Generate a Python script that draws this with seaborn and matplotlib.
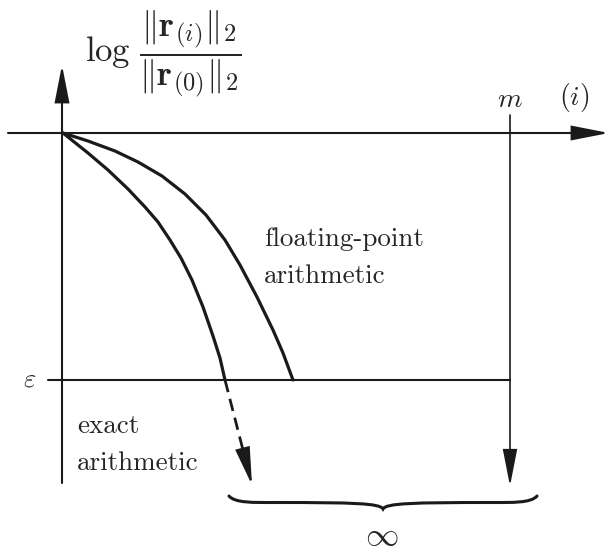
## Convergence sketch: exact vs floating-point arithmetic
import numpy as np
import pandas as pd
import matplotlib
matplotlib.use("Agg")
import matplotlib.pyplot as plt
from matplotlib.patches import FancyArrowPatch
from matplotlib.path import Path
import matplotlib.patches as mpatches
import seaborn as sns

## Data (sketch units, x = iterations, y = log residual, y grows downward)
exact_x = [63, 88, 108, 128, 145, 158, 170, 181, 192, 203, 213, 220, 225]
exact_y = [133, 153, 170, 189, 207, 222, 240, 258, 280, 307, 336, 358, 380]
float_x = [63, 88, 115, 138, 162, 185, 206, 225, 240, 257, 273, 283, 293]
float_y = [133, 141, 151, 162, 176, 194, 215, 240, 265, 297, 330, 353, 380]
origin = (63, 133)
eps_level = 380
m_iter = 510
exact_end = (252, 485)

sns.set_theme(style="white")
plt.rcParams["font.family"] = ["cmr10", "DejaVu Serif"]
plt.rcParams["mathtext.fontset"] = "cm"
plt.rcParams["axes.unicode_minus"] = False

fig = plt.figure(figsize=(6.10, 5.49), dpi=100)
ax = fig.add_axes([0, 0, 1, 1])
ax.set_xlim(0, 610)
ax.set_ylim(549, 0)
ax.axis("off")

curves = pd.concat([
    pd.DataFrame({"x": exact_x, "y": exact_y, "run": "exact"}),
    pd.DataFrame({"x": float_x, "y": float_y, "run": "float"}),
])
sns.lineplot(data=curves, x="x", y="y", units="run", estimator=None, sort=False,
             color="#1a1a1a", lw=2.3, ax=ax)
for line in ax.lines:
    line.set_solid_capstyle("round")
    line.set_solid_joinstyle("round")

ink = "#1a1a1a"

def arrow(p0, p1, lw=1.5):
    a = FancyArrowPatch(p0, p1, arrowstyle="-|>,head_length=2.3,head_width=0.45",
                        mutation_scale=10, lw=lw, color=ink,
                        shrinkA=0, shrinkB=0, joinstyle="miter")
    ax.add_patch(a)

## axes
arrow((8, origin[1]), (609, origin[1]))
arrow((origin[0] - 1, 483), (origin[0] - 1, 65))
## epsilon line and m line
ax.plot([48, m_iter], [eps_level, eps_level], color=ink, lw=1.5)
ax.plot([m_iter, m_iter], [115, eps_level], color=ink, lw=1.2)
arrow((m_iter, eps_level), (m_iter, 486), lw=1.2)

## dashed continuation of exact arithmetic, solid head
p0 = np.array([exact_x[-1], exact_y[-1]], float)
p1 = np.array(exact_end, float)
d = (p1 - p0) / np.linalg.norm(p1 - p0)
base = p1 - d * 30
ax.plot([p0[0], base[0]], [p0[1], base[1]], color=ink, lw=2.0, ls=(0, (4.5, 2.5)))
arrow(tuple(base - d * 2), tuple(p1), lw=1.5)

## brace under the arrows
def brace(x0, x1, y, h=13):
    xm = (x0 + x1) / 2
    verts = [(x0, y), (x0 + 6, y + h * 0.55), (x0 + 25, y + h * 0.5), (x0 + 45, y + h * 0.5),
             (xm - 30, y + h * 0.5), (xm - 3, y + h * 0.55), (xm, y + h),
             (xm + 3, y + h * 0.55), (xm + 30, y + h * 0.5), (x1 - 45, y + h * 0.5),
             (x1 - 25, y + h * 0.5), (x1 - 6, y + h * 0.55), (x1, y)]
    codes = [Path.MOVETO] + [Path.CURVE4] * 12
    ax.add_patch(mpatches.PathPatch(Path(verts, codes), fill=False, lw=2.2, color=ink,
                                    capstyle="round"))

brace(229, 537, 496)

## labels
ax.text(85, 54, r"$\log\,\dfrac{\Vert\mathbf{r}_{(i)}\Vert_2}{\Vert\mathbf{r}_{(0)}\Vert_2}$",
        fontsize=25, ha="left", va="center")
ax.text(m_iter, 100, r"$m$", fontsize=20, ha="center", va="center")
ax.text(574, 98, r"$(i)$", fontsize=20, ha="center", va="center")
ax.text(30, 380, r"$\varepsilon$", fontsize=19, ha="center", va="center")
ax.text(264, 258, "floating-point\narithmetic", fontsize=19.5, ha="left", va="center",
        linespacing=1.7)
ax.text(77, 445, "exact\narithmetic", fontsize=19.5, ha="left", va="center",
        linespacing=1.7)
ax.text(382, 536, r"$\infty$", fontsize=24, ha="center", va="center")

plt.savefig("out.png", dpi=100)
